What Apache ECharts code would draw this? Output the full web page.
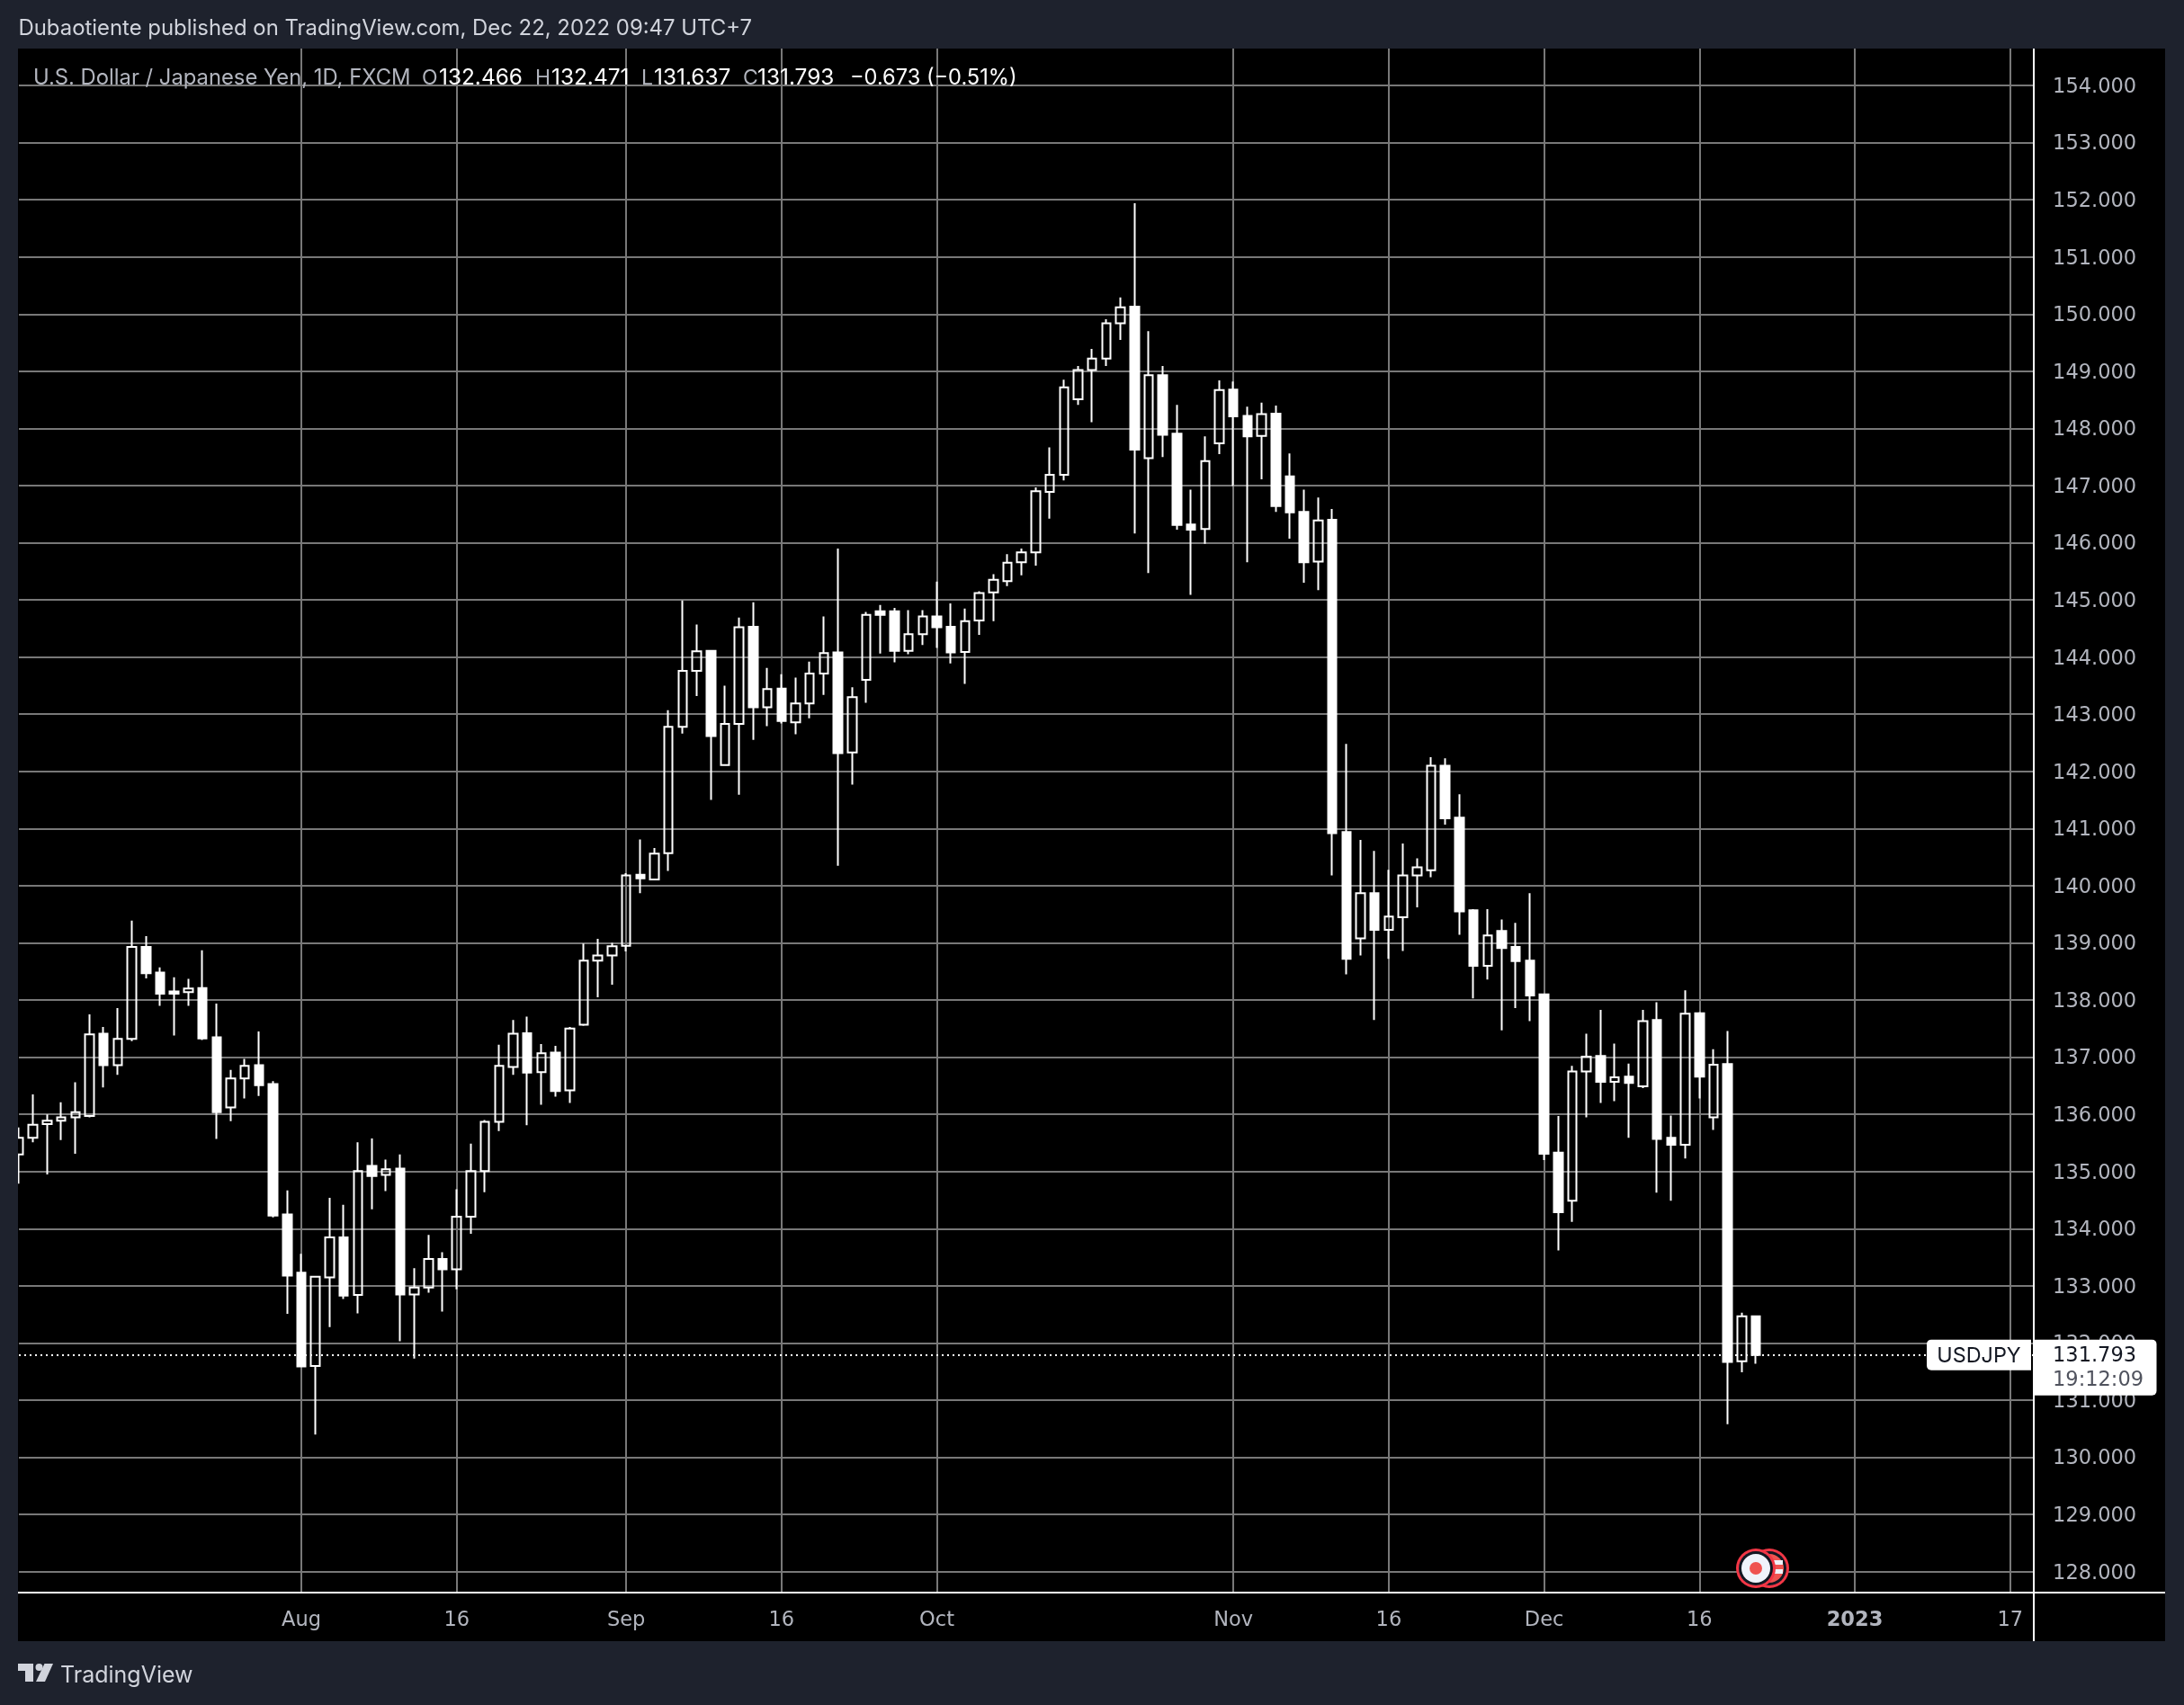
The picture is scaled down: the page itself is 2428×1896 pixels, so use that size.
<!DOCTYPE html>
<html><head><meta charset="utf-8">
<style>html,body{margin:0;padding:0;background:#1e222d}#c{width:2428px;height:1896px}</style>
<script src="https://cdn.jsdelivr.net/npm/echarts@6/dist/echarts.min.js"></script>
</head><body><div id="c"></div>
<script>
const categories = ["Jul 4","Jul 5","Jul 6","Jul 7","Jul 8","Jul 11","Jul 12","Jul 13","Jul 14","Jul 15","Jul 18","Jul 19","Jul 20","Jul 21","Jul 22","Jul 25","Jul 26","Jul 27","Jul 28","Jul 29",
"Aug 1","Aug 2","Aug 3","Aug 4","Aug 5","Aug 8","Aug 9","Aug 10","Aug 11","Aug 12","Aug 15","Aug 16","Aug 17","Aug 18","Aug 19","Aug 22","Aug 23","Aug 24","Aug 25","Aug 26","Aug 29","Aug 30","Aug 31",
"Sep 1","Sep 2","Sep 5","Sep 6","Sep 7","Sep 8","Sep 9","Sep 12","Sep 13","Sep 14","Sep 15","Sep 16","Sep 19","Sep 20","Sep 21","Sep 22","Sep 23","Sep 26","Sep 27","Sep 28","Sep 29","Sep 30",
"Oct 3","Oct 4","Oct 5","Oct 6","Oct 7","Oct 10","Oct 11","Oct 12","Oct 13","Oct 14","Oct 17","Oct 18","Oct 19","Oct 20","Oct 21","Oct 24","Oct 25","Oct 26","Oct 27","Oct 28","Oct 31",
"Nov 1","Nov 2","Nov 3","Nov 4","Nov 7","Nov 8","Nov 9","Nov 10","Nov 11","Nov 14","Nov 15","Nov 16","Nov 17","Nov 18","Nov 21","Nov 22","Nov 23","Nov 24","Nov 25","Nov 28","Nov 29","Nov 30",
"Dec 1","Dec 2","Dec 5","Dec 6","Dec 7","Dec 8","Dec 9","Dec 12","Dec 13","Dec 14","Dec 15","Dec 16","Dec 19","Dec 20","Dec 21","Dec 22","Dec 23","Dec 26","Dec 27","Dec 28","Dec 29","Dec 30",
"Jan 2","Jan 3","Jan 4","Jan 5","Jan 6","Jan 9","Jan 10","Jan 11","Jan 12","Jan 13","Jan 16","Jan 17","Jan 18","Jan 19"];

const tickLabels = {"Aug 1":"Aug","Aug 16":"16","Sep 1":"Sep","Sep 16":"16","Oct 3":"Oct","Nov 1":"Nov","Nov 16":"16","Dec 1":"Dec","Dec 16":"16","Jan 2":"2023","Jan 17":"17"};
const priceTicks = [128,129,130,131,132,133,134,135,136,137,138,139,140,141,142,143,144,145,146,147,148,149,150,151,152,153,154];

const opens = [135.30,135.59,135.83,135.89,135.95,135.97,137.41,136.86,137.32,138.93,138.48,138.15,138.14,138.21,137.35,136.12,136.63,136.86,136.53,134.25,
133.23,131.60,133.15,133.85,132.84,135.10,134.94,135.05,132.85,132.97,133.47,133.29,134.21,135.01,135.87,136.83,137.42,136.74,137.08,136.42,137.57,138.69,138.78,
138.95,140.19,140.11,140.57,142.78,143.76,144.11,142.11,142.83,144.53,143.12,143.45,142.86,143.19,143.71,144.08,142.33,143.60,144.80,144.80,144.11,144.40,
144.71,144.53,144.09,144.64,145.13,145.33,145.66,145.83,146.89,147.19,148.51,149.02,149.22,149.84,150.13,147.48,148.93,147.91,146.32,146.24,147.74,
148.68,148.22,147.87,148.26,147.16,146.54,145.67,146.40,140.94,139.08,139.87,139.23,139.45,140.18,140.27,142.10,141.19,139.57,138.60,139.21,138.93,138.69,
138.10,135.33,134.49,136.75,137.02,136.57,136.66,136.49,137.65,135.59,135.47,137.77,135.95,136.88,131.68,132.466];
const highs = [135.77,136.35,136.00,136.21,136.56,137.75,137.53,137.86,139.39,139.12,138.57,138.40,138.37,138.87,137.94,136.78,136.97,137.45,136.58,134.67,
133.56,133.16,134.54,134.42,135.51,135.58,135.21,135.30,133.31,133.89,133.59,134.69,135.49,135.90,137.22,137.65,137.71,137.23,137.20,137.53,138.99,139.07,139.00,
140.22,140.81,140.66,143.07,144.99,144.57,144.11,143.50,144.69,144.96,143.81,143.70,143.64,143.92,144.71,145.90,143.47,144.79,144.91,144.86,144.82,144.82,
145.32,144.94,144.85,145.15,145.45,145.80,145.90,146.97,147.67,148.85,149.09,149.39,149.91,150.29,151.94,149.70,149.09,148.41,146.93,147.86,148.84,
148.82,148.38,148.45,148.40,147.56,146.93,146.79,146.59,142.48,140.80,140.61,140.28,140.74,140.48,142.25,142.23,141.60,139.59,139.59,139.41,139.35,139.87,
138.10,135.97,136.85,137.41,137.83,137.24,136.89,137.83,137.96,135.98,138.17,137.79,137.14,137.46,132.53,132.471];
const lows = [134.79,135.51,134.95,135.55,135.31,135.95,136.47,136.69,137.28,138.38,137.90,137.38,137.90,137.30,135.57,135.88,136.28,136.32,134.20,132.51,
131.59,130.40,132.28,132.77,132.52,134.34,134.66,132.03,131.73,132.88,132.55,132.94,133.91,134.64,135.71,136.69,135.81,136.17,136.31,136.20,137.55,138.05,138.27,
138.85,139.87,140.11,140.26,142.66,143.32,141.50,142.11,141.59,142.55,142.79,142.84,142.65,142.93,143.34,140.35,141.77,143.20,144.06,143.91,144.05,144.21,
144.16,143.89,143.53,144.39,144.63,145.24,145.43,145.60,146.42,147.09,148.41,148.11,149.09,149.55,146.16,145.47,147.50,146.23,145.09,145.98,147.55,
146.99,145.66,147.11,146.54,146.07,145.30,145.17,140.18,138.45,138.78,137.65,138.72,138.86,139.62,140.15,141.07,139.14,138.03,138.36,137.47,137.86,137.63,
135.20,133.62,134.12,135.95,136.20,136.23,135.59,136.46,134.63,134.49,135.23,136.28,135.73,130.58,131.49,131.637];
const closes = [135.59,135.82,135.89,135.95,136.04,137.40,136.86,137.32,138.93,138.47,138.11,138.11,138.20,137.33,136.04,136.63,136.85,136.51,134.23,133.18,
131.59,133.16,133.85,132.83,135.01,134.92,135.04,132.85,132.97,133.47,133.29,134.21,135.01,135.87,136.85,137.41,136.73,137.07,136.41,137.50,138.69,138.78,138.94,
140.18,140.13,140.56,142.78,143.76,144.10,142.62,142.83,144.52,143.12,143.44,142.88,143.19,143.71,144.07,142.32,143.30,144.74,144.74,144.11,144.40,144.71,
144.52,144.08,144.63,145.12,145.35,145.65,145.83,146.90,147.19,148.72,149.02,149.22,149.84,150.12,147.63,148.93,147.89,146.31,146.23,147.43,148.67,
148.21,147.86,148.25,146.64,146.53,145.66,146.39,140.92,138.72,139.87,139.23,139.46,140.18,140.32,142.10,141.18,139.55,138.60,139.13,138.91,138.68,138.08,
135.31,134.29,136.75,137.01,136.57,136.65,136.55,137.63,135.57,135.47,137.76,136.66,136.87,131.67,132.466,131.793];

const lastClose = closes[closes.length - 1];
const ohlc = opens.map((o, i) => [o, closes[i], lows[i], highs[i]]);
const hasTick = (idx, val) => Object.prototype.hasOwnProperty.call(tickLabels, val);

const UI = 'Inter, "Noto Sans", sans-serif';
const NUM = '"DejaVu Sans", sans-serif';
const chart = echarts.init(document.getElementById('c'), null, {width:2428, height:1896});

function txt(text, x, y, fill, size, extra, fam) {
  return {type:'text', z:30, silent:true, style:Object.assign({text, x, y, fill, font:(size||22)+'px '+(fam||UI), textVerticalAlign:'middle'}, extra||{})};
}
function rect(x,y,w,h,fill,z,r){return {type:'rect',z:z,silent:true,shape:{x,y,width:w,height:h,r:r||0},style:{fill}};}
function circ(cx,cy,r,fill,z){return {type:'circle',z:z,silent:true,shape:{cx,cy,r},style:{fill}};}
function poly(points,fill,z){return {type:'polygon',z:z,silent:true,shape:{points},style:{fill}};}

chart.setOption({
  animation:false,
  backgroundColor:'#1e222d',
  grid:{left:21, top:54, width:2245.1, height:1716, containLabel:false},
  xAxis:{type:'category', boundaryGap:false, data:categories,
    axisLine:{show:false}, axisTick:{show:false},
    axisLabel:{interval:hasTick, margin:21, color:'#b2b5be', fontFamily:NUM, fontSize:22.5,
      formatter:v => v==='Jan 2' ? '{b|2023}' : tickLabels[v],
      rich:{b:{fontWeight:'bold', fontFamily:NUM, fontSize:22.5, color:'#b2b5be'}}},
    splitLine:{show:true, interval:hasTick, lineStyle:{color:'#787878', width:2}}},
  yAxis:[
    {type:'value', position:'right', min:127.65, max:154.645, scale:true,
      axisLine:{show:false}, axisLabel:{show:false},
      axisTick:{show:false, customValues:priceTicks},
      splitLine:{show:true, lineStyle:{color:'#787878', width:2}}},
    {type:'value', position:'right', min:127.65, max:154.645, scale:true, z:10,
      axisLine:{show:false}, splitLine:{show:false}, axisTick:{show:false},
      axisLabel:{margin:16, color:'#b2b5be', fontFamily:NUM, fontSize:22.5, customValues:priceTicks,
        verticalAlign:'top', padding:[-9.5,0,0,0], formatter:v => v.toFixed(3)}}
  ],
  series:[{type:'candlestick', data:ohlc, barWidth:10, xAxisIndex:0, yAxisIndex:0, clip:true,
    itemStyle:{color:'rgba(0,0,0,0)', color0:'#ffffff', borderColor:'#ffffff', borderColor0:'#ffffff', borderWidth:2},
    markLine:{silent:true, z:1, symbol:'none', animation:false, label:{show:false},
      lineStyle:{color:'#ffffff', type:[2,4], width:2, opacity:1},
      data:[{yAxis:lastClose}]}}]
});

const py = chart.convertToPixel({yAxisIndex:0}, lastClose);
chart.setOption({graphic:{elements:[
  rect(20,54,2387,1771,'#000000',-1),
  rect(0,54,20,1771,'#1e222d',7),
  rect(2262,54,145,1716,'#000000',5),
  rect(20,1770,2387,2,'#ffffff',6),
  rect(2260,54,2,1771,'#ffffff',6),
  txt('Dubaotiente published on TradingView.com, Dec 22, 2022 09:47 UTC+7',20.5,32,'#d1d4dc',23.9),
  txt('U.S. Dollar / Japanese Yen, 1D, FXCM',37,87,'#b2b5be',23.8),
  txt('O',469,87,'#b2b5be',23), txt('132.466',488,87,'#ffffff',24.4),
  txt('H',595,87,'#b2b5be',23), txt('132.471',613,87,'#ffffff',24.4),
  txt('L',713,87,'#b2b5be',23), txt('131.637',727,87,'#ffffff',24.4),
  txt('C',826,87,'#b2b5be',23), txt('131.793',842,87,'#ffffff',24.4),
  txt('\u22120.673 (\u22120.51%)',945,87,'#ffffff',23.6),
  // last-price tags
  {type:'rect',z:20,silent:true,shape:{x:2142,y:py-17,width:116,height:34,r:[5,0,0,5]},style:{fill:'#ffffff'}},
  {type:'rect',z:20,silent:true,shape:{x:2262,y:py-17,width:135.5,height:62,r:[0,5,5,0]},style:{fill:'#ffffff'}},
  txt('USDJPY',2200,py+1,'#131722',23.4,{textAlign:'center'}),
  txt('131.793',2282,py+2,'#131722',22.5,null,NUM),
  txt('19:12:09',2282,py+29,'#50535e',22.5,null,NUM),
  // event badges
  circ(1967,1744,22,'#f23645',8), circ(1967,1744,19,'#131722',8), circ(1967,1744,16,'#ef5350',8),
  rect(1968,1735,14,5,'#f0f3fa',8), rect(1968,1745,14,5,'#f0f3fa',8),
  circ(1952,1744,22,'#f23645',9), circ(1952,1744,19,'#131722',9), circ(1952,1744,16,'#f0f3fa',9), circ(1952,1744,7,'#ef5350',9),
  // logo
  poly([[20,1850],[37,1850],[37,1870],[28,1870],[28,1858],[20,1858]],'#d1d4dc',30),
  circ(43.5,1854,4,'#d1d4dc',30),
  poly([[49.5,1850],[59,1850],[50,1870],[40,1870]],'#d1d4dc',30),
  txt('TradingView',67,1863,'#d1d4dc',25)
]}});
</script></body></html>
